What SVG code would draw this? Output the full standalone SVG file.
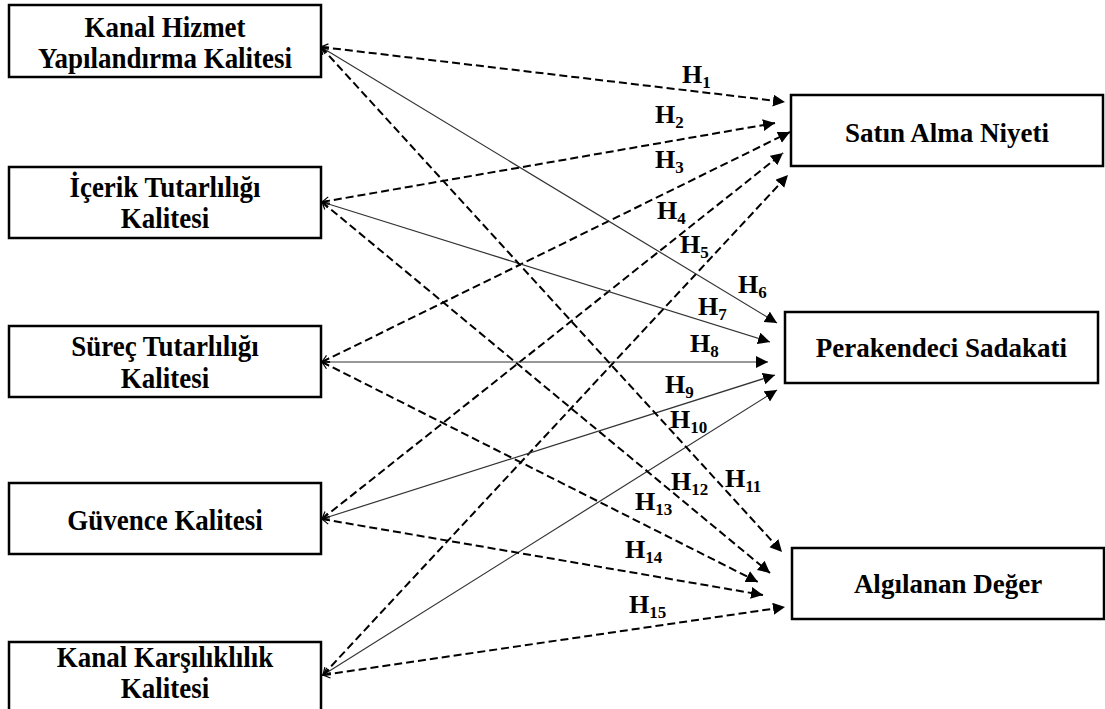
<svg xmlns="http://www.w3.org/2000/svg" width="1105" height="709" viewBox="0 0 1105 709">
<style>
.box{fill:#fff;stroke:#000;stroke-width:2.5}
.bt{font-family:'Liberation Serif','Tinos','DejaVu Serif',serif;font-weight:700;font-size:27px;fill:#000;text-anchor:middle}
.hl{font-family:'Liberation Serif','Tinos','DejaVu Serif',serif;font-weight:700;font-size:26px;fill:#000}
.sub{font-size:17px}
.dash{fill:none;stroke:#000;stroke-width:2;stroke-dasharray:8 4;marker-end:url(#ah);marker-start:url(#st)}
.solid{fill:none;stroke:#333;stroke-width:1.2;marker-end:url(#ah);marker-start:url(#st)}
</style>
<defs>
<marker id="ah" markerUnits="userSpaceOnUse" markerWidth="13" markerHeight="13" refX="12" refY="6" orient="auto" viewBox="0 0 13 13">
<path d="M0,0 L12,6 L0,12 z" fill="#000"/>
</marker>
<marker id="st" markerUnits="userSpaceOnUse" markerWidth="10" markerHeight="12" refX="1" refY="6" orient="auto" viewBox="0 0 10 12">
<path d="M8,2 L1,6 L8,10" fill="none" stroke="#000" stroke-width="1.2"/>
</marker>
</defs>
<rect width="1105" height="709" fill="#fff"/>
<g id="connectors">
<line class="dash" x1="321" y1="47" x2="785" y2="102"/>
<line class="dash" x1="322" y1="202" x2="775" y2="123"/>
<line class="dash" x1="322" y1="362" x2="790" y2="132"/>
<line class="dash" x1="322" y1="519" x2="783" y2="153"/>
<line class="dash" x1="323" y1="675" x2="788" y2="175"/>
<line class="solid" x1="321" y1="47" x2="777" y2="323"/>
<line class="solid" x1="322" y1="202" x2="770" y2="342"/>
<line class="solid" x1="322" y1="362" x2="768" y2="362"/>
<line class="solid" x1="322" y1="519" x2="775" y2="375"/>
<line class="solid" x1="323" y1="675" x2="777" y2="390"/>
<line class="dash" x1="321" y1="47" x2="782" y2="552"/>
<line class="dash" x1="322" y1="202" x2="770" y2="573"/>
<line class="dash" x1="322" y1="362" x2="758" y2="582"/>
<line class="dash" x1="322" y1="519" x2="763" y2="595"/>
<line class="dash" x1="323" y1="675" x2="785" y2="607"/>
</g>
<g id="labels">
<text class="hl" x="682" y="83">H<tspan class="sub" dy="5">1</tspan></text>
<text class="hl" x="655" y="123">H<tspan class="sub" dy="5">2</tspan></text>
<text class="hl" x="655" y="168">H<tspan class="sub" dy="5">3</tspan></text>
<text class="hl" x="657" y="219">H<tspan class="sub" dy="5">4</tspan></text>
<text class="hl" x="680" y="253">H<tspan class="sub" dy="5">5</tspan></text>
<text class="hl" x="738" y="293">H<tspan class="sub" dy="5">6</tspan></text>
<text class="hl" x="698" y="315">H<tspan class="sub" dy="5">7</tspan></text>
<text class="hl" x="690" y="352">H<tspan class="sub" dy="5">8</tspan></text>
<text class="hl" x="665" y="393">H<tspan class="sub" dy="5">9</tspan></text>
<text class="hl" x="670" y="428">H<tspan class="sub" dy="5">10</tspan></text>
<text class="hl" x="725" y="487">H<tspan class="sub" dy="5">11</tspan></text>
<text class="hl" x="671" y="490">H<tspan class="sub" dy="5">12</tspan></text>
<text class="hl" x="635" y="510">H<tspan class="sub" dy="5">13</tspan></text>
<text class="hl" x="625" y="558">H<tspan class="sub" dy="5">14</tspan></text>
<text class="hl" x="629" y="613">H<tspan class="sub" dy="5">15</tspan></text>
</g>
<g id="kanal-hizmet">
<rect class="box" x="9" y="5" width="312" height="72"/>
<text class="bt" transform="translate(165,37) scale(1,1.12)">Kanal Hizmet</text>
<text class="bt" transform="translate(165,68) scale(1,1.12)">Yapılandırma Kalitesi</text>
</g>
<g id="icerik">
<rect class="box" x="9" y="167" width="312" height="71"/>
<text class="bt" transform="translate(165,197) scale(1,1.12)">İçerik Tutarlılığı</text>
<text class="bt" transform="translate(165,228) scale(1,1.12)">Kalitesi</text>
</g>
<g id="surec">
<rect class="box" x="9" y="326" width="312" height="71"/>
<text class="bt" transform="translate(165,356) scale(1,1.12)">Süreç Tutarlılığı</text>
<text class="bt" transform="translate(165,388) scale(1,1.12)">Kalitesi</text>
</g>
<g id="guvence">
<rect class="box" x="9" y="483" width="312" height="71"/>
<text class="bt" transform="translate(165,530) scale(1,1.12)">Güvence Kalitesi</text>
</g>
<g id="karsiliklilik">
<rect class="box" x="9" y="642" width="312" height="72"/>
<text class="bt" transform="translate(165,667) scale(1,1.12)">Kanal Karşılıklılık</text>
<text class="bt" transform="translate(165,698) scale(1,1.12)">Kalitesi</text>
</g>
<g id="satin-alma">
<rect class="box" x="791" y="95" width="312" height="71"/>
<text class="bt" x="947" y="142">Satın Alma Niyeti</text>
</g>
<g id="perakendeci">
<rect class="box" x="785" y="312" width="313" height="71"/>
<text class="bt" x="941.5" y="357">Perakendeci Sadakati</text>
</g>
<g id="algilanan">
<rect class="box" x="792" y="548" width="312" height="71"/>
<text class="bt" x="948" y="593">Algılanan Değer</text>
</g>
</svg>
